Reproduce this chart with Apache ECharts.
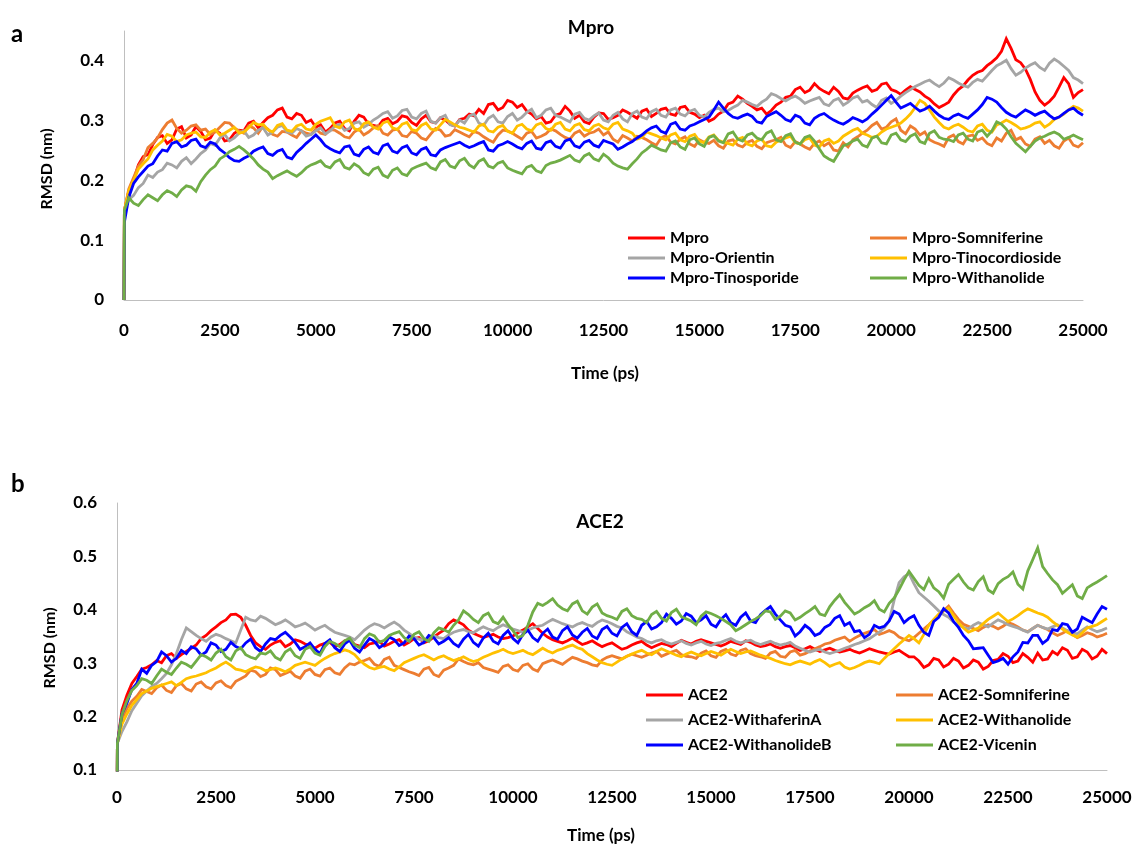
<!DOCTYPE html>
<html>
<head>
<meta charset="utf-8">
<script src="https://cdn.jsdelivr.net/npm/echarts@6/dist/echarts.min.js"></script>
<style>
html,body{margin:0;padding:0;background:#fff;}
#chart{width:1136px;height:850px;}
</style>
</head>
<body>
<div id="chart"></div>
<script>
// ---------- DATA ----------
// frame times (ps): t = 0, t = 10, then every 125 ps up to 25000 ps
const FIRST_FRAMES_PS = [0, 10];
const FRAME_STEP_PS = 125;
const FRAME_COUNT_AFTER = 200;
const TIMES = FIRST_FRAMES_PS.concat(Array.from({ length: FRAME_COUNT_AFTER }, (_, i) => (i + 1) * FRAME_STEP_PS));

// Panel a: Mpro (RMSD, nm)
const mproNames = ['Mpro', 'Mpro-Somniferine', 'Mpro-Orientin', 'Mpro-Tinocordioside', 'Mpro-Tinosporide', 'Mpro-Withanolide'];
const mpro = [0, 0.150,
0.182,0.200,0.226,0.240,0.243,0.260,0.272,0.275,0.262,0.268,
0.286,0.290,0.271,0.276,0.290,0.282,0.268,0.271,0.284,0.279,
0.266,0.268,0.279,0.284,0.283,0.296,0.299,0.288,0.297,0.305,
0.309,0.318,0.321,0.306,0.303,0.312,0.309,0.297,0.301,0.289,
0.293,0.281,0.287,0.296,0.299,0.287,0.283,0.299,0.309,0.306,
0.294,0.292,0.290,0.301,0.304,0.295,0.299,0.308,0.306,0.297,
0.292,0.303,0.309,0.298,0.296,0.305,0.301,0.294,0.291,0.302,
0.304,0.311,0.308,0.319,0.312,0.327,0.329,0.318,0.322,0.334,
0.331,0.322,0.327,0.316,0.311,0.303,0.307,0.296,0.298,0.309,
0.312,0.324,0.316,0.304,0.309,0.298,0.295,0.306,0.313,0.312,
0.302,0.305,0.309,0.318,0.314,0.309,0.304,0.316,0.319,0.307,
0.312,0.319,0.321,0.311,0.309,0.322,0.324,0.314,0.311,0.305,
0.309,0.299,0.303,0.311,0.316,0.328,0.331,0.341,0.336,0.329,
0.324,0.318,0.321,0.311,0.317,0.326,0.331,0.339,0.341,0.352,
0.356,0.347,0.351,0.362,0.354,0.349,0.345,0.356,0.349,0.338,
0.336,0.346,0.351,0.355,0.358,0.349,0.352,0.361,0.363,0.352,
0.349,0.344,0.351,0.357,0.352,0.348,0.341,0.336,0.328,0.322,
0.326,0.331,0.343,0.352,0.358,0.368,0.376,0.381,0.384,0.392,
0.398,0.405,0.416,0.437,0.421,0.402,0.397,0.386,0.369,0.348,
0.334,0.326,0.332,0.341,0.356,0.372,0.362,0.339,0.347,0.352];
const mproSomniferine = [0, 0.150,
0.186,0.205,0.224,0.235,0.255,0.262,0.271,0.285,0.296,0.301,
0.287,0.279,0.284,0.291,0.293,0.284,0.286,0.277,0.281,0.289,
0.297,0.296,0.288,0.283,0.279,0.291,0.288,0.279,0.291,0.286,
0.277,0.274,0.282,0.281,0.276,0.272,0.283,0.279,0.277,0.286,
0.279,0.277,0.285,0.284,0.279,0.273,0.271,0.281,0.286,0.276,
0.281,0.288,0.292,0.279,0.276,0.284,0.286,0.275,0.273,0.282,
0.279,0.271,0.268,0.278,0.287,0.284,0.274,0.276,0.285,0.281,
0.277,0.273,0.282,0.279,0.273,0.268,0.264,0.276,0.284,0.283,
0.279,0.274,0.269,0.279,0.282,0.271,0.274,0.278,0.286,0.283,
0.277,0.272,0.269,0.279,0.283,0.274,0.279,0.281,0.286,0.276,
0.281,0.269,0.264,0.275,0.271,0.266,0.274,0.272,0.268,0.263,
0.259,0.271,0.275,0.264,0.261,0.269,0.273,0.261,0.257,0.268,
0.264,0.262,0.267,0.258,0.254,0.266,0.268,0.259,0.256,0.264,
0.267,0.257,0.253,0.263,0.266,0.268,0.272,0.259,0.255,0.265,
0.261,0.256,0.252,0.262,0.266,0.258,0.263,0.251,0.249,0.263,
0.256,0.268,0.273,0.279,0.284,0.292,0.297,0.286,0.289,0.298,
0.303,0.284,0.278,0.291,0.286,0.276,0.281,0.268,0.264,0.261,
0.257,0.272,0.276,0.265,0.261,0.274,0.276,0.267,0.271,0.262,
0.258,0.271,0.266,0.279,0.284,0.268,0.272,0.261,0.257,0.269,
0.273,0.262,0.267,0.258,0.254,0.266,0.271,0.259,0.256,0.263];
const mproOrientin = [0, 0.150,
0.168,0.175,0.188,0.195,0.209,0.205,0.214,0.218,0.229,0.226,
0.221,0.232,0.238,0.228,0.236,0.245,0.251,0.262,0.259,0.271,
0.277,0.266,0.271,0.279,0.283,0.272,0.276,0.284,0.288,0.276,
0.281,0.289,0.292,0.281,0.279,0.287,0.283,0.274,0.277,0.283,
0.288,0.278,0.283,0.291,0.294,0.284,0.287,0.296,0.298,0.289,
0.294,0.301,0.306,0.312,0.315,0.304,0.308,0.317,0.319,0.306,
0.303,0.312,0.316,0.299,0.296,0.305,0.309,0.293,0.291,0.301,
0.296,0.308,0.311,0.296,0.292,0.304,0.309,0.298,0.296,0.307,
0.312,0.301,0.306,0.314,0.319,0.305,0.309,0.318,0.321,0.309,
0.306,0.302,0.298,0.311,0.314,0.304,0.301,0.308,0.313,0.301,
0.298,0.309,0.314,0.303,0.298,0.312,0.316,0.306,0.303,0.315,
0.319,0.309,0.306,0.318,0.321,0.311,0.308,0.316,0.319,0.309,
0.306,0.314,0.319,0.321,0.315,0.317,0.322,0.326,0.334,0.331,
0.327,0.324,0.331,0.336,0.345,0.342,0.337,0.333,0.338,0.341,
0.336,0.329,0.333,0.336,0.339,0.328,0.325,0.334,0.337,0.326,
0.331,0.338,0.341,0.331,0.334,0.327,0.322,0.334,0.338,0.329,
0.334,0.341,0.347,0.352,0.357,0.361,0.365,0.368,0.362,0.357,
0.363,0.372,0.368,0.363,0.359,0.356,0.364,0.369,0.366,0.375,
0.384,0.392,0.396,0.401,0.387,0.376,0.381,0.388,0.393,0.397,
0.389,0.384,0.396,0.403,0.398,0.391,0.384,0.372,0.368,0.362];
const mproTinocordioside = [0, 0.150,
0.183,0.200,0.219,0.228,0.236,0.251,0.259,0.266,0.277,0.274,
0.265,0.268,0.276,0.279,0.281,0.273,0.272,0.281,0.285,0.276,
0.279,0.284,0.289,0.279,0.281,0.288,0.297,0.293,0.294,0.285,
0.281,0.292,0.295,0.284,0.282,0.291,0.294,0.286,0.284,0.294,
0.299,0.302,0.305,0.291,0.288,0.298,0.301,0.287,0.284,0.295,
0.298,0.289,0.286,0.296,0.299,0.288,0.285,0.294,0.297,0.285,
0.283,0.292,0.296,0.286,0.284,0.293,0.302,0.298,0.293,0.289,
0.287,0.284,0.281,0.291,0.294,0.283,0.281,0.289,0.292,0.282,
0.279,0.291,0.294,0.286,0.283,0.293,0.296,0.287,0.284,0.294,
0.297,0.286,0.283,0.292,0.295,0.285,0.283,0.291,0.294,0.288,
0.285,0.294,0.297,0.286,0.283,0.279,0.269,0.272,0.281,0.278,
0.275,0.271,0.268,0.276,0.279,0.268,0.265,0.274,0.277,0.266,
0.263,0.273,0.276,0.267,0.264,0.262,0.259,0.269,0.272,0.261,
0.258,0.266,0.269,0.258,0.256,0.264,0.268,0.271,0.274,0.263,
0.261,0.268,0.271,0.259,0.256,0.266,0.269,0.262,0.266,0.274,
0.279,0.284,0.287,0.279,0.276,0.272,0.274,0.281,0.286,0.289,
0.292,0.296,0.303,0.311,0.322,0.334,0.329,0.318,0.306,0.297,
0.289,0.286,0.291,0.294,0.289,0.283,0.281,0.291,0.294,0.284,
0.281,0.293,0.296,0.301,0.297,0.292,0.286,0.288,0.291,0.296,
0.298,0.289,0.294,0.302,0.306,0.311,0.318,0.324,0.321,0.316];
const mproTinosporide = [0, 0.130,
0.172,0.195,0.206,0.215,0.224,0.228,0.241,0.251,0.249,0.262,
0.265,0.256,0.259,0.267,0.269,0.258,0.255,0.264,0.261,0.252,
0.246,0.238,0.233,0.232,0.237,0.241,0.249,0.253,0.256,0.245,
0.242,0.249,0.252,0.239,0.236,0.247,0.254,0.262,0.269,0.276,
0.268,0.258,0.253,0.249,0.246,0.256,0.258,0.244,0.241,0.252,
0.256,0.247,0.244,0.258,0.261,0.249,0.246,0.255,0.258,0.246,
0.243,0.252,0.255,0.243,0.241,0.251,0.255,0.258,0.261,0.264,
0.259,0.255,0.258,0.262,0.265,0.251,0.249,0.258,0.261,0.265,
0.261,0.256,0.253,0.262,0.266,0.254,0.252,0.263,0.266,0.257,
0.254,0.266,0.269,0.258,0.255,0.264,0.267,0.259,0.256,0.267,
0.264,0.261,0.252,0.256,0.261,0.265,0.271,0.276,0.283,0.288,
0.291,0.282,0.279,0.294,0.297,0.286,0.284,0.291,0.294,0.298,
0.302,0.306,0.318,0.331,0.321,0.312,0.306,0.304,0.308,0.311,
0.307,0.298,0.296,0.307,0.311,0.315,0.309,0.302,0.299,0.309,
0.306,0.296,0.293,0.304,0.309,0.312,0.306,0.301,0.297,0.294,
0.299,0.305,0.302,0.298,0.303,0.311,0.318,0.326,0.334,0.342,
0.331,0.321,0.325,0.329,0.322,0.316,0.319,0.324,0.316,0.309,
0.304,0.302,0.308,0.311,0.307,0.304,0.311,0.318,0.327,0.339,
0.336,0.331,0.322,0.314,0.309,0.306,0.312,0.318,0.314,0.309,
0.313,0.316,0.309,0.303,0.306,0.312,0.318,0.321,0.314,0.309];
const mproWithanolide = [0, 0.150,
0.171,0.162,0.158,0.168,0.176,0.171,0.166,0.176,0.183,0.179,
0.173,0.184,0.191,0.189,0.182,0.198,0.209,0.218,0.224,0.236,
0.241,0.248,0.252,0.257,0.251,0.244,0.236,0.226,0.219,0.214,
0.203,0.208,0.212,0.216,0.211,0.207,0.213,0.221,0.226,0.229,
0.233,0.224,0.221,0.231,0.235,0.222,0.219,0.228,0.223,0.213,
0.209,0.219,0.222,0.209,0.205,0.217,0.221,0.211,0.208,0.219,
0.223,0.226,0.229,0.221,0.218,0.231,0.235,0.224,0.221,0.233,
0.237,0.226,0.221,0.232,0.236,0.224,0.221,0.229,0.232,0.221,
0.217,0.214,0.211,0.222,0.225,0.216,0.213,0.225,0.229,0.231,
0.234,0.238,0.242,0.234,0.231,0.241,0.245,0.236,0.233,0.244,
0.238,0.229,0.224,0.221,0.219,0.228,0.236,0.246,0.252,0.259,
0.255,0.251,0.249,0.263,0.266,0.256,0.252,0.268,0.271,0.261,
0.257,0.272,0.275,0.266,0.263,0.278,0.281,0.269,0.266,0.276,
0.279,0.271,0.268,0.279,0.283,0.268,0.265,0.275,0.278,0.264,
0.261,0.272,0.275,0.266,0.253,0.241,0.236,0.232,0.245,0.258,
0.261,0.266,0.269,0.259,0.256,0.271,0.274,0.263,0.261,0.276,
0.279,0.268,0.265,0.274,0.278,0.265,0.262,0.279,0.283,0.272,
0.269,0.268,0.265,0.276,0.279,0.269,0.266,0.281,0.284,0.274,
0.283,0.298,0.294,0.286,0.273,0.262,0.255,0.248,0.257,0.266,
0.271,0.274,0.278,0.281,0.277,0.269,0.272,0.276,0.272,0.268];

// Panel b: ACE2 (RMSD, nm)
const aceNames = ['ACE2', 'ACE2-Somniferine', 'ACE2-WithaferinA', 'ACE2-Withanolide', 'ACE2-WithanolideB', 'ACE2-Vicenin'];
const ace2 = [0, 0.150,
0.212,0.240,0.262,0.275,0.289,0.292,0.297,0.305,0.301,0.314,
0.318,0.309,0.316,0.322,0.328,0.334,0.346,0.352,0.361,0.368,
0.376,0.381,0.391,0.392,0.386,0.371,0.352,0.338,0.331,0.326,
0.334,0.339,0.342,0.331,0.336,0.344,0.341,0.336,0.333,0.328,
0.334,0.337,0.339,0.331,0.335,0.342,0.344,0.335,0.332,0.329,
0.336,0.338,0.341,0.332,0.336,0.341,0.344,0.334,0.339,0.346,
0.348,0.338,0.342,0.349,0.356,0.362,0.374,0.381,0.377,0.372,
0.362,0.356,0.352,0.348,0.351,0.354,0.349,0.346,0.348,0.351,
0.357,0.362,0.368,0.374,0.365,0.356,0.349,0.344,0.341,0.338,
0.342,0.347,0.341,0.335,0.338,0.342,0.336,0.331,0.335,0.338,
0.332,0.326,0.329,0.334,0.338,0.341,0.334,0.329,0.333,0.337,
0.335,0.331,0.337,0.343,0.339,0.336,0.341,0.344,0.341,0.338,
0.335,0.332,0.336,0.341,0.338,0.335,0.342,0.339,0.334,0.331,
0.333,0.336,0.331,0.328,0.331,0.333,0.329,0.324,0.327,0.331,
0.326,0.322,0.325,0.328,0.324,0.321,0.323,0.326,0.322,0.319,
0.323,0.327,0.324,0.321,0.319,0.317,0.321,0.324,0.318,0.312,
0.312,0.304,0.292,0.297,0.309,0.306,0.293,0.298,0.309,0.304,
0.291,0.296,0.306,0.302,0.289,0.294,0.305,0.307,0.318,0.313,
0.301,0.304,0.318,0.311,0.302,0.319,0.306,0.308,0.322,0.316,
0.329,0.324,0.309,0.312,0.326,0.321,0.308,0.313,0.326,0.318];
const aceSomniferine = [0, 0.150,
0.196,0.215,0.229,0.238,0.251,0.247,0.243,0.254,0.259,0.249,
0.245,0.258,0.262,0.252,0.248,0.261,0.265,0.256,0.252,0.263,
0.267,0.258,0.254,0.266,0.271,0.276,0.287,0.284,0.275,0.279,
0.291,0.288,0.277,0.281,0.285,0.276,0.272,0.285,0.289,0.279,
0.276,0.288,0.291,0.282,0.279,0.291,0.299,0.297,0.302,0.305,
0.309,0.298,0.294,0.307,0.311,0.296,0.292,0.288,0.284,0.281,
0.277,0.289,0.292,0.279,0.275,0.287,0.291,0.296,0.308,0.303,
0.299,0.297,0.301,0.292,0.289,0.286,0.283,0.294,0.297,0.288,
0.285,0.296,0.299,0.289,0.285,0.299,0.303,0.306,0.302,0.298,
0.305,0.311,0.308,0.304,0.301,0.297,0.295,0.306,0.311,0.314,
0.311,0.308,0.313,0.317,0.314,0.311,0.315,0.319,0.322,0.313,
0.317,0.321,0.324,0.316,0.313,0.312,0.309,0.319,0.323,0.314,
0.311,0.322,0.326,0.317,0.314,0.324,0.327,0.318,0.314,0.312,
0.309,0.319,0.322,0.313,0.311,0.321,0.324,0.315,0.318,0.323,
0.327,0.331,0.336,0.338,0.343,0.346,0.349,0.341,0.347,0.352,
0.356,0.359,0.363,0.354,0.357,0.361,0.357,0.349,0.345,0.342,
0.348,0.356,0.364,0.372,0.381,0.389,0.398,0.407,0.394,0.382,
0.373,0.369,0.365,0.361,0.367,0.372,0.369,0.364,0.369,0.376,
0.373,0.368,0.362,0.359,0.365,0.371,0.367,0.363,0.357,0.352,
0.356,0.361,0.354,0.348,0.352,0.357,0.354,0.349,0.352,0.356];
const aceWithaferinA = [0, 0.150,
0.172,0.190,0.211,0.225,0.239,0.248,0.256,0.262,0.271,0.281,
0.297,0.318,0.344,0.366,0.359,0.352,0.346,0.341,0.349,0.354,
0.351,0.346,0.342,0.338,0.362,0.386,0.381,0.379,0.388,0.384,
0.378,0.372,0.376,0.381,0.375,0.368,0.371,0.375,0.369,0.362,
0.367,0.371,0.364,0.358,0.355,0.352,0.349,0.344,0.353,0.362,
0.369,0.374,0.371,0.366,0.372,0.377,0.371,0.362,0.356,0.349,
0.345,0.342,0.347,0.351,0.348,0.346,0.353,0.358,0.361,0.363,
0.359,0.357,0.363,0.368,0.364,0.361,0.367,0.372,0.368,0.364,
0.361,0.358,0.362,0.366,0.369,0.371,0.377,0.382,0.378,0.374,
0.371,0.368,0.373,0.376,0.372,0.369,0.376,0.381,0.378,0.374,
0.369,0.366,0.359,0.354,0.349,0.346,0.341,0.338,0.342,0.344,
0.339,0.336,0.339,0.342,0.337,0.334,0.338,0.341,0.336,0.333,
0.337,0.339,0.343,0.346,0.341,0.338,0.341,0.343,0.338,0.335,
0.338,0.341,0.337,0.334,0.336,0.339,0.332,0.328,0.324,0.321,
0.324,0.326,0.321,0.318,0.321,0.324,0.328,0.331,0.335,0.338,
0.342,0.346,0.352,0.358,0.366,0.379,0.418,0.451,0.462,0.468,
0.449,0.432,0.424,0.416,0.407,0.398,0.391,0.386,0.377,0.371,
0.367,0.364,0.371,0.376,0.372,0.368,0.375,0.381,0.377,0.372,
0.369,0.366,0.362,0.358,0.365,0.371,0.367,0.364,0.368,0.372,
0.366,0.361,0.357,0.355,0.362,0.368,0.363,0.359,0.362,0.366];
const aceWithanolide = [0, 0.150,
0.186,0.205,0.221,0.232,0.243,0.248,0.253,0.256,0.259,0.262,
0.265,0.258,0.264,0.271,0.274,0.276,0.279,0.282,0.287,0.291,
0.297,0.302,0.296,0.289,0.287,0.284,0.289,0.293,0.291,0.286,
0.288,0.291,0.288,0.284,0.289,0.296,0.299,0.302,0.299,0.296,
0.303,0.309,0.314,0.318,0.321,0.325,0.322,0.316,0.306,0.298,
0.292,0.289,0.292,0.294,0.289,0.286,0.293,0.301,0.305,0.309,
0.313,0.316,0.311,0.306,0.311,0.314,0.309,0.305,0.308,0.312,
0.307,0.303,0.306,0.311,0.315,0.319,0.322,0.326,0.321,0.318,
0.321,0.324,0.319,0.316,0.322,0.328,0.323,0.319,0.324,0.327,
0.331,0.334,0.329,0.326,0.318,0.312,0.306,0.301,0.298,0.296,
0.302,0.308,0.313,0.317,0.321,0.324,0.319,0.316,0.322,0.327,
0.323,0.319,0.315,0.312,0.317,0.321,0.317,0.314,0.318,0.322,
0.319,0.315,0.321,0.326,0.322,0.318,0.321,0.323,0.319,0.315,
0.312,0.309,0.305,0.302,0.299,0.297,0.301,0.304,0.301,0.298,
0.303,0.307,0.301,0.294,0.298,0.301,0.293,0.289,0.292,0.296,
0.301,0.304,0.302,0.299,0.309,0.318,0.327,0.336,0.344,0.352,
0.346,0.338,0.354,0.371,0.382,0.392,0.398,0.403,0.389,0.376,
0.366,0.358,0.362,0.366,0.374,0.382,0.388,0.394,0.386,0.378,
0.383,0.389,0.396,0.402,0.398,0.394,0.391,0.386,0.378,0.371,
0.364,0.358,0.353,0.349,0.357,0.366,0.369,0.372,0.378,0.384];
const aceWithanolideB = [0, 0.150,
0.205,0.225,0.251,0.262,0.289,0.281,0.296,0.303,0.321,0.314,
0.302,0.309,0.324,0.318,0.331,0.327,0.315,0.321,0.338,0.334,
0.322,0.326,0.339,0.331,0.327,0.338,0.345,0.329,0.322,0.336,
0.346,0.344,0.352,0.358,0.349,0.339,0.326,0.331,0.338,0.326,
0.318,0.337,0.344,0.329,0.322,0.336,0.343,0.328,0.321,0.334,
0.346,0.341,0.329,0.335,0.349,0.344,0.333,0.338,0.351,0.346,
0.334,0.339,0.352,0.348,0.336,0.341,0.348,0.337,0.331,0.345,
0.354,0.339,0.332,0.347,0.356,0.341,0.336,0.352,0.361,0.346,
0.338,0.354,0.362,0.348,0.341,0.356,0.364,0.349,0.345,0.361,
0.368,0.353,0.347,0.358,0.365,0.351,0.346,0.363,0.369,0.356,
0.351,0.367,0.374,0.359,0.352,0.371,0.378,0.364,0.368,0.376,
0.392,0.384,0.373,0.379,0.393,0.388,0.376,0.381,0.389,0.373,
0.368,0.382,0.391,0.376,0.371,0.386,0.394,0.379,0.376,0.391,
0.399,0.406,0.392,0.381,0.371,0.368,0.351,0.359,0.371,0.364,
0.352,0.356,0.367,0.372,0.384,0.389,0.371,0.376,0.359,0.361,
0.348,0.354,0.371,0.366,0.369,0.379,0.397,0.392,0.376,0.384,
0.389,0.371,0.358,0.352,0.378,0.386,0.402,0.394,0.378,0.367,
0.352,0.342,0.327,0.328,0.329,0.315,0.301,0.304,0.309,0.298,
0.312,0.321,0.339,0.338,0.352,0.352,0.337,0.344,0.363,0.361,
0.374,0.372,0.358,0.364,0.386,0.381,0.376,0.392,0.406,0.401];
const aceVicenin = [0, 0.150,
0.204,0.230,0.249,0.258,0.271,0.268,0.262,0.276,0.289,0.283,
0.279,0.291,0.302,0.298,0.292,0.304,0.316,0.312,0.306,0.319,
0.326,0.312,0.306,0.323,0.329,0.316,0.311,0.308,0.319,0.317,
0.323,0.311,0.306,0.321,0.327,0.314,0.309,0.326,0.331,0.319,
0.315,0.331,0.341,0.337,0.331,0.342,0.347,0.334,0.329,0.346,
0.355,0.351,0.339,0.343,0.352,0.356,0.359,0.348,0.341,0.354,
0.359,0.346,0.341,0.357,0.366,0.363,0.358,0.371,0.381,0.398,
0.391,0.382,0.376,0.389,0.394,0.378,0.374,0.386,0.372,0.361,
0.348,0.352,0.371,0.396,0.412,0.408,0.414,0.421,0.409,0.402,
0.398,0.411,0.416,0.398,0.392,0.405,0.411,0.394,0.389,0.386,
0.382,0.397,0.402,0.389,0.384,0.382,0.376,0.391,0.397,0.384,
0.379,0.395,0.401,0.387,0.383,0.379,0.372,0.388,0.396,0.393,
0.389,0.384,0.378,0.372,0.361,0.366,0.372,0.378,0.383,0.389,
0.398,0.396,0.382,0.388,0.398,0.394,0.381,0.386,0.393,0.399,
0.406,0.392,0.389,0.406,0.418,0.428,0.414,0.403,0.392,0.397,
0.404,0.409,0.417,0.401,0.396,0.412,0.422,0.438,0.456,0.472,
0.459,0.446,0.438,0.458,0.441,0.434,0.422,0.448,0.457,0.466,
0.452,0.441,0.437,0.453,0.462,0.437,0.431,0.449,0.457,0.462,
0.471,0.448,0.439,0.473,0.494,0.516,0.481,0.468,0.456,0.447,
0.431,0.439,0.447,0.426,0.421,0.441,0.447,0.452,0.458,0.464];

const seriesColors = ['#FF0000', '#ED7D31', '#A5A5A5', '#FFC000', '#0000FF', '#70AD47'];

// ---------- CHART ----------
const FONT = 'Lato, "Liberation Sans", Arial, sans-serif';
const mproData = [mpro, mproSomniferine, mproOrientin, mproTinocordioside, mproTinosporide, mproWithanolide];
const aceData = [ace2, aceSomniferine, aceWithaferinA, aceWithanolide, aceWithanolideB, aceVicenin];

function pairs(arr) { return arr.map((v, i) => [TIMES[i], v]); }

function mkSeries(names, data, axisIdx) {
  return names.map((n, k) => ({
    name: n, type: 'line', xAxisIndex: axisIdx, yAxisIndex: axisIdx,
    data: pairs(data[k]), showSymbol: false, symbol: 'none', clip: true,
    lineStyle: { width: 2.8, color: seriesColors[k], join: 'miter' }, itemStyle: { color: seriesColors[k] },
    animation: false, z: 2 + k
  }));
}

const axisLabelStyle = { color: '#000', fontFamily: FONT, fontWeight: 'bold', fontSize: 17 };
const axisLineStyle = { show: true, lineStyle: { color: '#BFBFBF', width: 1 } };

function xAx(gi, margin) {
  return {
    type: 'value', gridIndex: gi, min: 0, max: 25000, interval: 2500,
    axisLine: axisLineStyle, axisTick: { show: false }, splitLine: { show: false },
    axisLabel: Object.assign({ margin: margin, formatter: v => String(v) }, axisLabelStyle)
  };
}

const legendText = { color: '#000', fontFamily: FONT, fontWeight: 'bold', fontSize: 16 };
function mkLegend(data, left, top, gap) {
  return {
    data: data, orient: 'vertical', left: left, top: top, itemGap: gap,
    icon: 'rect', itemWidth: 37, itemHeight: 3, padding: 0,
    textStyle: legendText, selectedMode: false
  };
}

const chart = echarts.init(document.getElementById('chart'), null, { renderer: 'canvas' });
chart.setOption({
  backgroundColor: '#fff',
  animation: false,
  grid: [
    { left: 124, top: 31, width: 959, height: 269 },
    { left: 117, top: 503, width: 990, height: 267 }
  ],
  xAxis: [xAx(0, 22), xAx(1, 19)],
  yAxis: [
    { type: 'value', gridIndex: 0, min: 0, max: 0.45, interval: 0.1,
      axisLine: axisLineStyle, axisTick: { show: false }, splitLine: { show: false },
      axisLabel: Object.assign({ margin: 20, showMaxLabel: false,
        formatter: v => (v === 0 ? '0' : (Math.abs(v - 0.45) < 1e-9 ? '' : v.toFixed(1))) }, axisLabelStyle) },
    { type: 'value', gridIndex: 1, min: 0.1, max: 0.6, interval: 0.1,
      axisLine: axisLineStyle, axisTick: { show: false }, splitLine: { show: false },
      axisLabel: Object.assign({ margin: 20, formatter: v => v.toFixed(1) }, axisLabelStyle) }
  ],
  legend: [
    mkLegend([mproNames[0], mproNames[2], mproNames[4]], 628, 230, 4),
    mkLegend([mproNames[1], mproNames[3], mproNames[5]], 870, 230, 4),
    mkLegend([aceNames[0], aceNames[2], aceNames[4]], 646, 687, 9),
    mkLegend([aceNames[1], aceNames[3], aceNames[5]], 896, 687, 9)
  ],
  graphic: [
    { type: 'text', x: 11, y: 22, style: { text: 'a', font: 'bold 24px ' + FONT, fill: '#000' } },
    { type: 'text', x: 11, y: 472, style: { text: 'b', font: 'bold 24px ' + FONT, fill: '#000' } },
    { type: 'text', x: 591, y: 28, style: { text: 'Mpro', font: 'bold 19px ' + FONT, fill: '#000', textAlign: 'center', textVerticalAlign: 'middle', align: 'center', verticalAlign: 'middle' } },
    { type: 'text', x: 600, y: 522, style: { text: 'ACE2', font: 'bold 19px ' + FONT, fill: '#000', textAlign: 'center', textVerticalAlign: 'middle', align: 'center', verticalAlign: 'middle' } },
    { type: 'text', x: 47, y: 169, rotation: Math.PI / 2, style: { text: 'RMSD (nm)', font: 'bold 16px ' + FONT, fill: '#000', textAlign: 'center', textVerticalAlign: 'middle', align: 'center', verticalAlign: 'middle' } },
    { type: 'text', x: 50, y: 648, rotation: Math.PI / 2, style: { text: 'RMSD (nm)', font: 'bold 16px ' + FONT, fill: '#000', textAlign: 'center', textVerticalAlign: 'middle', align: 'center', verticalAlign: 'middle' } },
    { type: 'text', x: 605, y: 374, style: { text: 'Time (ps)', font: 'bold 17px ' + FONT, fill: '#000', textAlign: 'center', textVerticalAlign: 'middle', align: 'center', verticalAlign: 'middle' } },
    { type: 'text', x: 601, y: 836, style: { text: 'Time (ps)', font: 'bold 17px ' + FONT, fill: '#000', textAlign: 'center', textVerticalAlign: 'middle', align: 'center', verticalAlign: 'middle' } }
  ],
  series: mkSeries(mproNames, mproData, 0).concat(mkSeries(aceNames, aceData, 1))
});
</script>
</body>
</html>
